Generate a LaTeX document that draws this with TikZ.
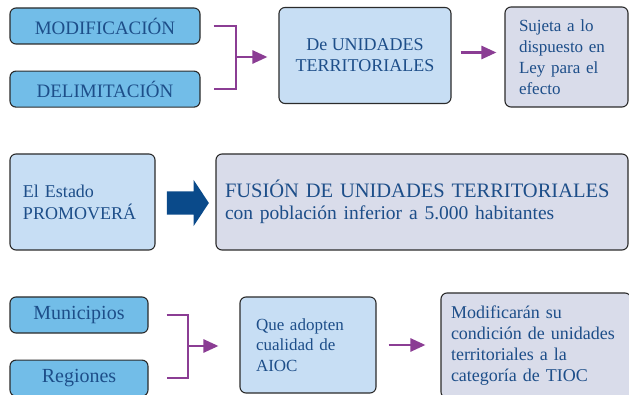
\documentclass[tikz,border=0pt]{standalone}
\usepackage{fontspec}
\setmainfont{Liberation Serif}
\usetikzlibrary{arrows.meta, positioning, shapes.arrows, calc}
\definecolor{mapsky}{HTML}{72BDE8}
\definecolor{mappale}{HTML}{C7DEF4}
\definecolor{maplilac}{HTML}{D9DCEA}
\definecolor{mapink}{HTML}{1D4E89}
\definecolor{mappurple}{HTML}{8B3D94}
\definecolor{mapnavy}{HTML}{0A4A8A}
\definecolor{mapedge}{HTML}{2B2B2B}

\begin{document}
\begin{tikzpicture}[x=1pt, y=-1pt,
      box/.style={rectangle, rounded corners=6pt, draw=mapedge, line width=1.1pt,
                  text=mapink, inner sep=0pt},
      tag/.style={box, fill=mapsky, minimum height=36pt,
                  font=\fontsize{19}{22}\selectfont},
      mid/.style={box, fill=mappale, minimum height=96pt},
      note/.style={box, fill=maplilac, align=left,
                   font=\fontsize{17}{21}\selectfont},
      brk/.style={mappurple, line width=2.6pt},
      arr/.style={-{Triangle[length=15pt, width=13pt]}, mappurple, line width=2.6pt},
      push/.style={single arrow, fill=mapnavy, inner xsep=0pt, inner ysep=11.5pt,
                   minimum height=42pt, single arrow head extend=11.5pt,
                   single arrow tip angle=113},
    ]
      \useasboundingbox (0,0) rectangle (629,395);

      % first row
      \node[tag, minimum width=190pt] (modif) at (105,26) {MODIFICACIÓN};
      \node[tag, minimum width=190pt, below=26pt of modif] (delim) {DELIMITACIÓN};
      \node[mid, minimum width=172pt, align=center, font=\fontsize{18}{21}\selectfont]
            (unid) at (365,55.5) {De UNIDADES\\TERRITORIALES};
      \node[note, minimum width=123pt, minimum height=100pt, text width=95pt]
            (sujeta) at (566.5,57) {Sujeta a lo\\dispuesto en\\Ley para el\\efecto};

      \coordinate (j1) at (236,57);
      \draw[brk] ([xshift=13pt]modif.east) -| (j1) |- ([xshift=13pt]delim.east);
      \draw[arr, shorten >=11pt] (j1) -- (j1 -| unid.west);
      \draw[arr, shorten <=9pt, shorten >=8pt] ([yshift=3pt]unid.east)
            -- ([yshift=3pt]unid.east -| sujeta.west);

      % second row
      \node[mid, minimum width=145pt, text width=119pt, align=left,
            font=\fontsize{18}{22}\selectfont]
            (estado) at (82.5,202) {El Estado\\PROMOVERÁ};
      \node[box, fill=maplilac, minimum width=412pt, minimum height=96pt,
            text width=394pt, align=left, font=\fontsize{20.5}{22}\selectfont]
            (fusion) at (422,202) {FUSIÓN DE UNIDADES TERRITORIALES\\
            \fontsize{19.5}{22}\selectfont con población inferior a 5.000 habitantes};
      \node[push] (flecha) at (184,203) {};

      % third row
      \node[tag, minimum width=138pt, font=\fontsize{20}{22}\selectfont]
            (munic) at (79,315) {Municipios};
      \node[tag, minimum width=138pt, font=\fontsize{20}{22}\selectfont,
            below=26pt of munic] (region) {Regiones};
      \node[mid, minimum width=136pt, text width=104pt, align=left,
            font=\fontsize{17}{20.5}\selectfont]
            (aioc) at (308,345) {Que adopten\\cualidad de\\AIOC};
      \node[note, minimum width=190pt, minimum height=105pt, text width=170pt,
            font=\fontsize{18}{21}\selectfont]
            (tioc) at (536,345.5) {Modificarán su\\condición de unidades\\territoriales a la\\categoría de TIOC};

      \coordinate (j2) at (188,346);
      \draw[brk] ([xshift=18pt]munic.east) -| (j2) |- ([xshift=18pt]region.east);
      \draw[arr, shorten >=21pt] (j2) -- (j2 -| aioc.west);
      \draw[arr, shorten <=12pt, shorten >=15pt] (aioc.east) -- (aioc.east -| tioc.west);
    \end{tikzpicture}
\end{document}
